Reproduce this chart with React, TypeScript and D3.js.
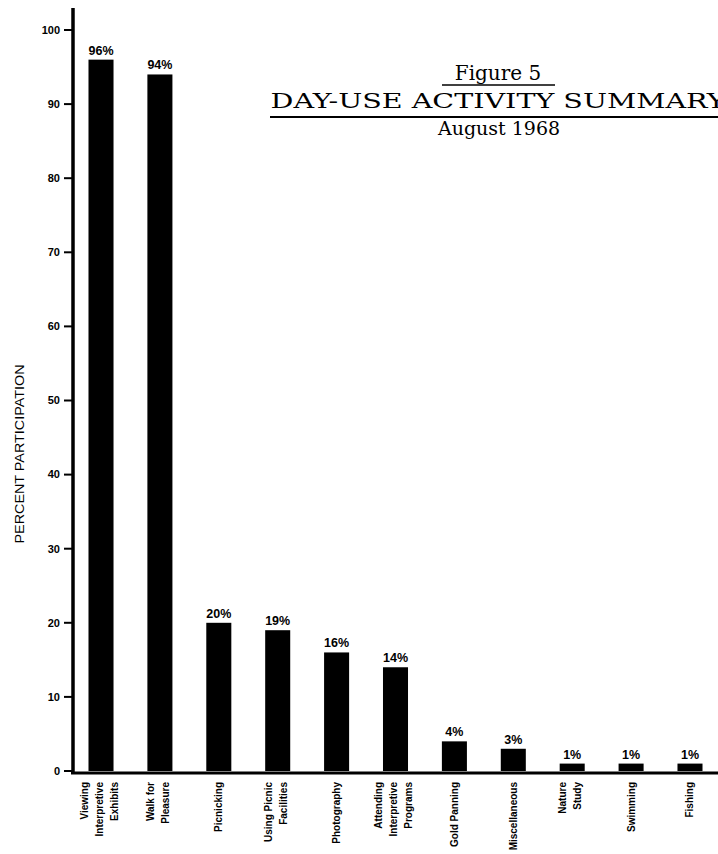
import React from 'react';
import * as d3 from 'd3';

// activity labels, one entry per bar (each inner array = rotated label lines)
const activities = [
  ['Viewing', 'Interpretive', 'Exhibits'],
  ['Walk for', 'Pleasure'],
  ['Picnicking'],
  ['Using Picnic', 'Facilities'],
  ['Photography'],
  ['Attending', 'Interpretive', 'Programs'],
  ['Gold Panning'],
  ['Miscellaneous'],
  ['Nature', 'Study'],
  ['Swimming'],
  ['Fishing'],
];
const participation = [96, 94, 20, 19, 16, 14, 4, 3, 1, 1, 1];
const yTicks = [0, 10, 20, 30, 40, 50, 60, 70, 80, 90, 100];

const W = 718;
const H = 854;
const sans = "'Liberation Sans', Arial, sans-serif";
const serif = "'DejaVu Serif', 'Liberation Serif', serif";

const App: React.FC = () => {
  const x = d3.scaleBand<number>()
    .domain(d3.range(participation.length))
    .range([73, 718])
    .paddingInner(0.575)
    .paddingOuter(0.263);

  const y = d3.scaleLinear().domain([0, 100]).range([771, 30]);
  const bw = x.bandwidth();
  const lineGap = 15;

  return (
    <svg width={W} height={H} style={{ position: 'absolute', left: 0, top: 0, background: '#fff' }}>
      {/* title */}
      <g fill="#000" fontFamily={serif} textAnchor="middle">
        <text x={498} y={80} fontSize={20}>Figure 5</text>
        <line x1={442} x2={555} y1={85} y2={85} stroke="#000" strokeWidth={1.5} />
        <text x={498} y={108} fontSize={21} textLength={455} lengthAdjust="spacingAndGlyphs">DAY-USE ACTIVITY SUMMARY</text>
        <line x1={270} x2={718} y1={117} y2={117} stroke="#000" strokeWidth={2} />
        <text x={499} y={135} fontSize={19}>August 1968</text>
      </g>

      {/* y axis */}
      <line x1={73} x2={73} y1={8} y2={774} stroke="#000" strokeWidth={3.5} />
      {yTicks.map(t => (
        <g key={t}>
          <line x1={64} x2={73} y1={y(t)} y2={y(t)} stroke="#000" strokeWidth={2} />
          <text x={60} y={y(t)} dy="0.35em" textAnchor="end" fontFamily={sans}
            fontWeight="bold" fontSize={11}>{t}</text>
        </g>
      ))}
      <text transform={`translate(20,${454}) rotate(-90)`} textAnchor="middle"
        dominantBaseline="central" fontFamily={sans} fontSize={12}
        textLength={179} lengthAdjust="spacingAndGlyphs">PERCENT PARTICIPATION</text>

      {/* bars */}
      {participation.map((v, i) => (
        <g key={i}>
          <rect x={x(i)} y={y(v)} width={bw} height={y(0) - y(v)} fill="#000" />
          <text x={(x(i) || 0) + bw / 2} y={y(v) - 5} textAnchor="middle"
            fontFamily={sans} fontWeight="bold" fontSize={12.5}>{v}%</text>
        </g>
      ))}

      {/* baseline */}
      <line x1={71} x2={718} y1={773} y2={773} stroke="#000" strokeWidth={3} />

      {/* category labels */}
      {activities.map((lines, i) => {
        const cx = (x(i) || 0) + bw / 2 - (lines.length > 1 ? 2 : 0);
        const first = cx - ((lines.length - 1) * lineGap) / 2;
        return lines.map((s, j) => (
          <text key={`${i}-${j}`}
            transform={`translate(${first + j * lineGap},782) rotate(-90)`}
            textAnchor="end" dominantBaseline="central"
            fontFamily={sans} fontWeight="bold" fontSize={10}>{s}</text>
        ));
      })}
    </svg>
  );
};

export default App;
